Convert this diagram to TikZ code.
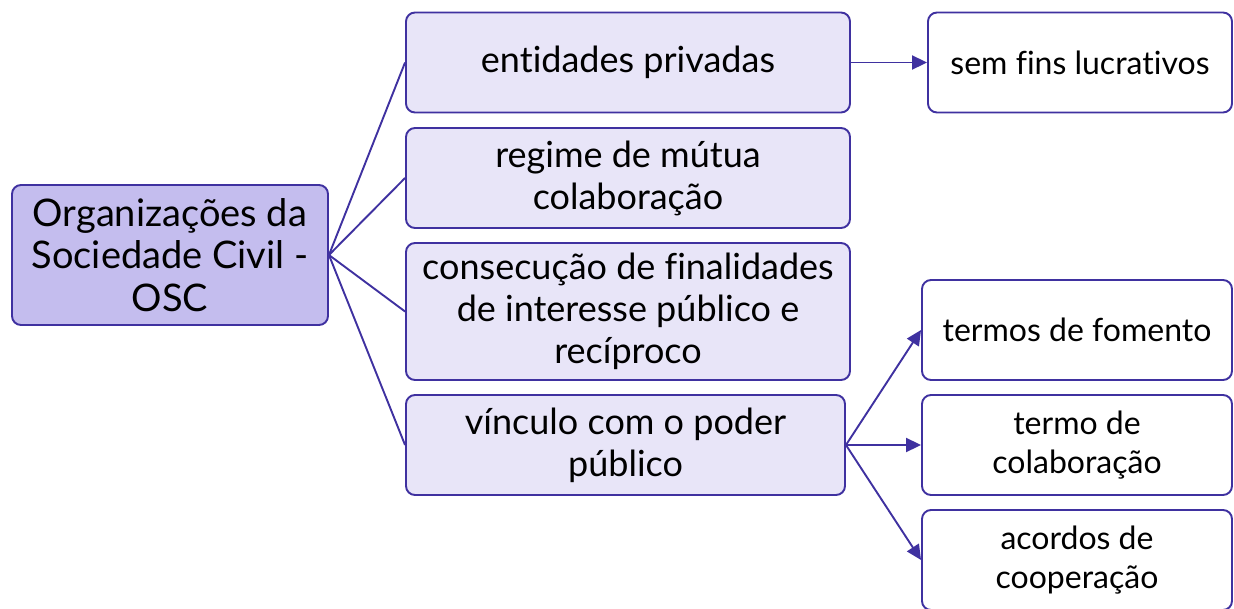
\documentclass[tikz,border=0pt]{standalone}
\usepackage{fontspec}
\setmainfont[Ligatures={NoCommon}]{Lato}
\usetikzlibrary{arrows.meta,positioning}
\definecolor{osclinha}{HTML}{3F31A0}
\definecolor{oscraiz}{HTML}{C4BDEE}
\definecolor{oscmeio}{HTML}{E8E5F8}
\begin{document}
\begin{tikzpicture}[x=1pt, y=-1pt,
    base/.style  = {rectangle, rounded corners=9pt, draw=osclinha,% common box look
                    line width=1.9pt, align=center, inner sep=0pt},
    raiz/.style  = {base, fill=oscraiz, minimum width=316pt, minimum height=140pt,
                    font=\fontsize{38}{42.5}\selectfont},
    meio/.style  = {base, fill=oscmeio, minimum height=100pt,
                    font=\fontsize{36}{42}\selectfont},
    folha/.style = {base, fill=white, minimum height=100pt,
                    font=\fontsize{32}{39}\selectfont},
    liga/.style  = {draw=osclinha, line width=1.9pt},
    seta/.style  = {liga, -{Triangle[length=15pt,width=14pt]}},
                        ]
\useasboundingbox (0,0) rectangle (1234,608);
% root
\node[raiz] (osc) at (170,255) {Organizações da\\Sociedade Civil -\\OSC};
% middle column
\node[meio, minimum width=444pt] (privadas) at (628,62.5) {entidades privadas};
\node[meio, minimum width=444pt] (regime) at (628,178) {regime de mútua\\colaboração};
\node[meio, minimum width=444pt, minimum height=137pt] (consecucao) at (628,311.5)
    {consecução de finalidades\\de interesse público e\\recíproco};
\node[meio, minimum width=439pt] (vinculo) at (625.5,445) {vínculo com o poder\\público};
% right column
\node[folha, minimum width=304pt] (fins) at (1080,62.5) {sem fins lucrativos};
\node[folha, minimum width=310pt] (fomento) at (1077,330) {termos de fomento};
\node[folha, minimum width=310pt] (colab) at (1077,445) {termo de\\colaboração};
\node[folha, minimum width=310pt] (acordos) at (1077,560) {acordos de\\cooperação};
% connectors
\foreach \m in {privadas,regime,consecucao,vinculo}
    \draw[liga] (osc.east) -- (\m.west);
\draw[seta] (privadas.east) -- (fins.west);
\foreach \f in {fomento,colab,acordos}
    \draw[seta] (vinculo.east) -- (\f.west);
\end{tikzpicture}
\end{document}
